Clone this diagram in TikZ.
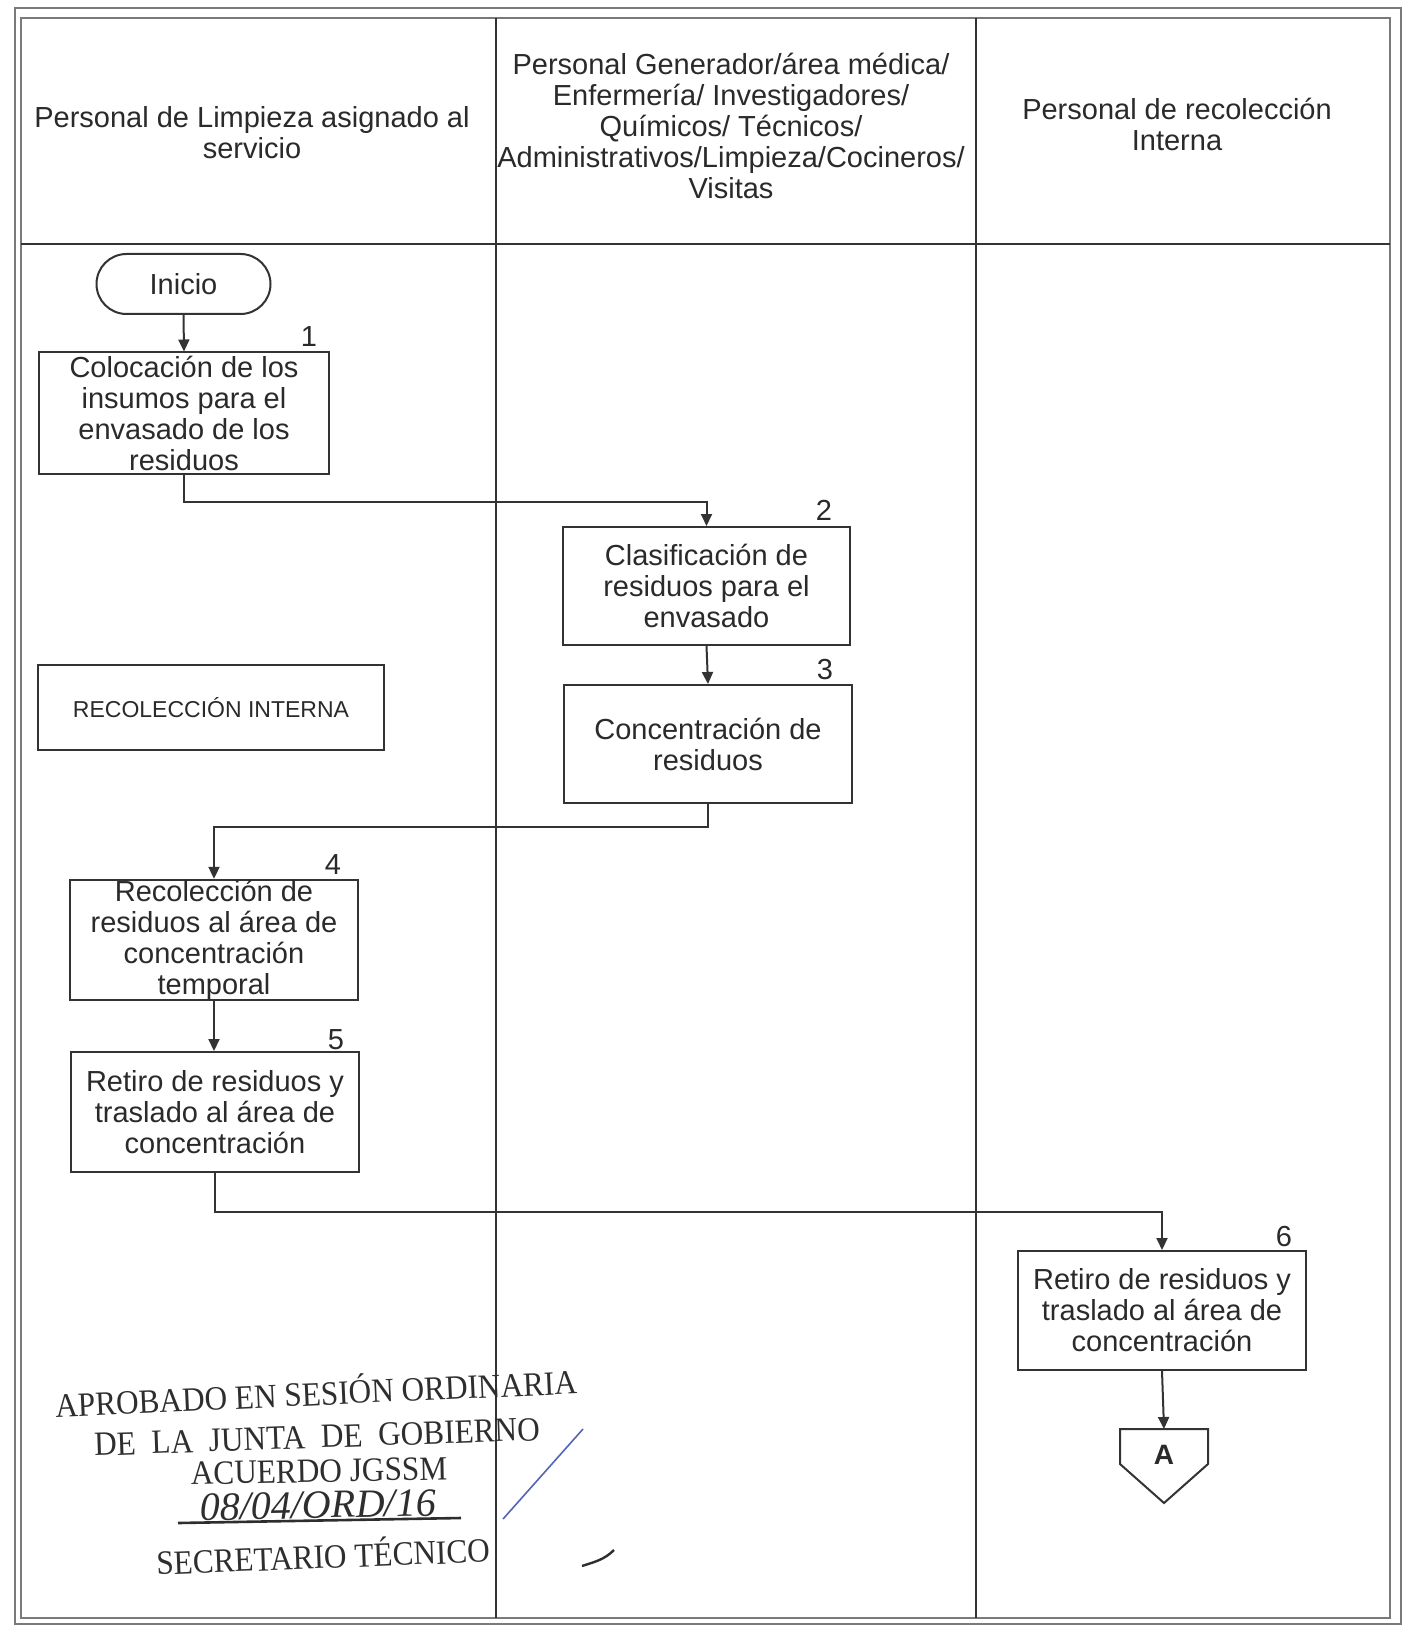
\documentclass[tikz,border=0pt]{standalone}
\usepackage{fontspec}
\setmainfont{Liberation Sans}
\newfontfamily\stampfont[FakeStretch=0.92]{Liberation Serif}
\newfontfamily\handfont{Liberation Serif}
\usetikzlibrary{arrows.meta}
\definecolor{ink}{HTML}{2A2A2A}
\definecolor{linec}{HTML}{333333}
\definecolor{framec}{HTML}{7A7A7A}
\definecolor{stampc}{HTML}{2E2E2E}
\definecolor{penblue}{HTML}{5565B5}
\begin{document}
\begin{tikzpicture}[x=0.5pt,y=-0.5pt,
  every node/.style={font=\fontsize{14.5}{15.5}\selectfont, text=ink, inner sep=0pt},
  procbox/.style={draw=linec, line width=1pt, align=center, inner sep=0pt},
  lane/.style={align=center},
  num/.style={font=\fontsize{14.5}{15.5}\selectfont},
  arr/.style={draw=linec, line width=1pt, -{Triangle[length=6pt,width=5.5pt]}},
  framel/.style={draw=framec, line width=1pt},
  gridl/.style={draw=linec, line width=0.9pt},
  stamp/.style={font=\stampfont\fontsize{17}{18}\selectfont, text=stampc}]
\useasboundingbox (0,0) rectangle (1409,1626);
\fill[white] (0,0) rectangle (1409,1626);
% frame
\draw[framel] (15,8) rectangle (1401,1624);
\draw[framel] (21,18) rectangle (1390,1618);
\draw[gridl] (21,244) -- (1390,244);
\draw[gridl] (496,18) -- (496,1618);
\draw[gridl] (976,18) -- (976,1618);
% headers
\node[lane] (h1) at (252,133) {Personal de Limpieza asignado al\\servicio};
\node[lane] (h2) at (731,126) {Personal Generador/área médica/\\Enfermería/ Investigadores/\\Químicos/ Técnicos/\\Administrativos/Limpieza/Cocineros/\\Visitas};
\node[lane] (h3) at (1177,124) {Personal de recolección\\Interna};
% nodes
\node[draw=linec, line width=1pt, rounded corners=15pt, minimum width=87pt, minimum height=30pt] (ini) at (183.5,284) {Inicio};
\node[procbox, minimum width=145pt, minimum height=60.5pt] (b1) at (184,413) {Colocación de los\\insumos para el\\envasado de los\\residuos};
\node[procbox, minimum width=143.5pt, minimum height=59pt] (b2) at (706.5,586) {Clasificación de\\residuos para el\\envasado};
\node[procbox, minimum width=144pt, minimum height=59pt] (b3) at (708,744) {Concentración de\\residuos};
\node[procbox, minimum width=173pt, minimum height=42.5pt, font=\fontsize{11.5}{13}\selectfont] (ri) at (211,707.5) {RECOLECCIÓN INTERNA};
\node[procbox, minimum width=144pt, minimum height=58pt] (b4) at (214,940) {Recolección de\\residuos al área de\\concentración\\temporal};
\node[procbox, minimum width=144pt, minimum height=60pt] (b5) at (215,1112) {Retiro de residuos y\\traslado al área de\\concentración};
\node[procbox, minimum width=144pt, minimum height=59.5pt] (b6) at (1162,1310.5) {Retiro de residuos y\\traslado al área de\\concentración};
% off-page connector
\coordinate (Atop) at (1164,1429);
\draw[draw=linec, line width=1pt] (1120,1429) -- (1208,1429) -- (1208,1464) -- (1164,1503) -- (1120,1464) -- cycle;
\node[font=\bfseries\fontsize{14}{15}\selectfont] (A) at (1164,1455) {A};
% numbers
\node[num] (n1) at (309,337) {1};
\node[num] (n2) at (824,510) {2};
\node[num] (n3) at (825,670) {3};
\node[num] (n4) at (333,865) {4};
\node[num] (n5) at (336,1040) {5};
\node[num] (n6) at (1284,1237) {6};
% connectors
\draw[arr] (ini.south) -- (b1.north);
\draw[arr] (b1.south) -- ++(0,27) -| (b2.north);
\draw[arr] (b2.south) -- (b3.north);
\draw[arr] (b3.south) -- ++(0,23) -| (b4.north);
\draw[arr] (b4.south) -- (b4.south |- b5.north);
\draw[arr] (b5.south) -- ++(0,39) -| (b6.north);
\draw[arr] (b6.south) -- (Atop);
% stamp
\node[stamp, rotate=2.6] (s1) at (316,1391) {APROBADO EN SESIÓN ORDINARIA};
\node[stamp, rotate=2] (s2) at (317,1437) {DE\ \ LA\ \ JUNTA\ \ DE\ \ GOBIERNO};
\node[stamp, rotate=1.2] (s3) at (319,1471) {ACUERDO JGSSM};
\node[stamp, rotate=1.2, font=\handfont\itshape\fontsize{20}{21}\selectfont] (s4) at (318,1505) {08/04/ORD/16};
\draw[stampc, line width=1.3pt] (178,1523) -- (461,1518);
\node[stamp, rotate=2.2] (s5) at (323,1554) {SECRETARIO TÉCNICO};
\draw[penblue, line width=0.8pt] (583,1429) -- (503,1519);
\draw[stampc, line width=1.2pt] (582,1566) .. controls (594,1562) and (604,1560) .. (614,1550);
\end{tikzpicture}
\end{document}
